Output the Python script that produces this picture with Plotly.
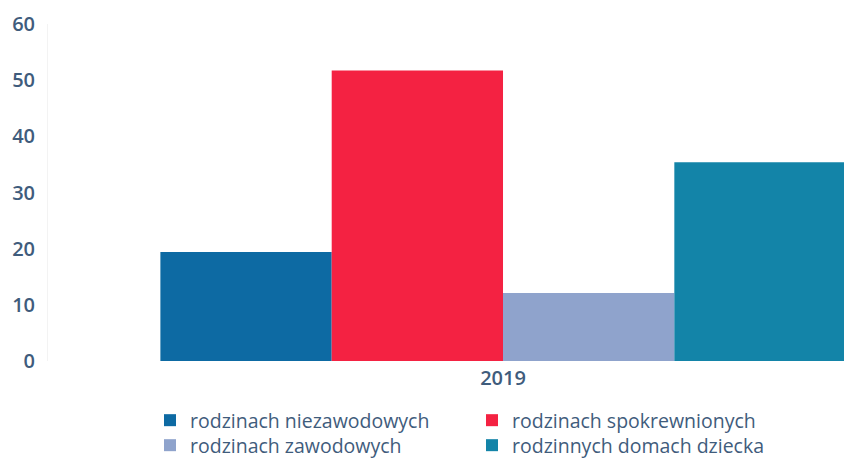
import plotly.graph_objects as go

categories = ["2019"]
series_names = ["rodzinach niezawodowych", "rodzinach spokrewnionych",
                "rodzinach zawodowych", "rodzinnych domach dziecka"]
series_values = [[19.4], [51.7], [12.1], [35.4]]
colors = ["#0d6aa3", "#f42242", "#8fa3cc", "#1384a8"]
y_ticks = [0, 10, 20, 30, 40, 50, 60]

W, H = 844, 459
legend_pos = [(150, 401), (472, 401), (150, 426), (472, 426)]
legend_ids = ["legend", "legend2", "legend3", "legend4"]

fig = go.Figure()
for name, vals, col, lid in zip(series_names, series_values, colors, legend_ids):
    fig.add_trace(go.Bar(x=categories, y=vals, name=name, marker=dict(color=col, line=dict(width=0)),
                         legend=lid))

font_color = "#3f5c7c"
layout_legends = {}
for lid, (px, py) in zip(legend_ids, legend_pos):
    layout_legends[lid] = dict(x=px / W, y=1 - py / H, xref="container", yref="container",
                               xanchor="left", yanchor="top", bgcolor="rgba(0,0,0,0)",
                               font=dict(family="Open Sans", size=19.5, color=font_color, weight=500))

fig.update_layout(
    width=W, height=H,
    margin=dict(l=48, r=0, t=24, b=98, autoexpand=False),
    paper_bgcolor="white", plot_bgcolor="white",
    barmode="group", bargap=0.247, bargroupgap=0,
    showlegend=True,
    xaxis=dict(type="category", range=[-0.5, 0.3747], showgrid=False, showline=False,
               zeroline=False, ticks="", ticklabelstandoff=3,
               tickfont=dict(family="Open Sans", size=20, color=font_color, weight=600)),
    yaxis=dict(range=[0, 60], tickvals=y_ticks, showgrid=False, zeroline=False,
               showline=True, linecolor="#f3f3f3", linewidth=1, ticks="",
               ticklabelstandoff=8,
               tickfont=dict(family="Open Sans", size=20, color=font_color, weight=600)),
    **layout_legends,
)

fig.write_html("out.html", config={"displayModeBar": False},
               post_script="document.body.style.margin='0';")
